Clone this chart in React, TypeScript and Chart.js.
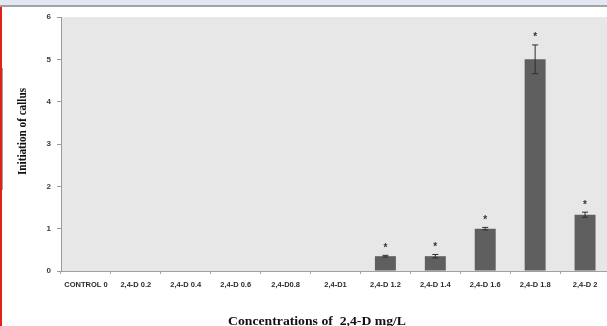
import React, { useEffect, useRef } from "react";
import { Chart, registerables } from "chart.js";

Chart.register(...registerables);

const categories = [
  "CONTROL 0",
  "2,4-D 0.2",
  "2,4-D 0.4",
  "2,4-D 0.6",
  "2,4-D0.8",
  "2,4-D1",
  "2,4-D 1.2",
  "2,4-D 1.4",
  "2,4-D 1.6",
  "2,4-D 1.8",
  "2,4-D 2",
];
const callusValues = [0, 0, 0, 0, 0, 0, 0.35, 0.35, 1.0, 5.0, 1.33];
const errorValues = [0, 0, 0, 0, 0, 0, 0.02, 0.04, 0.03, 0.34, 0.06];
const significance = ["", "", "", "", "", "", "*", "*", "*", "*", "*"];
const yTicks = [0, 1, 2, 3, 4, 5, 6];
const xTitle = "Concentrations of  2,4-D mg/L";
const yTitle = "Initiation of callus";

const bgPlugin = {
  id: "plotBg",
  beforeDraw(chart: any) {
    const { ctx, chartArea } = chart;
    ctx.save();
    ctx.fillStyle = "#e7e7e7";
    ctx.fillRect(chartArea.left, chartArea.top, chartArea.right - chartArea.left, chartArea.bottom - chartArea.top);
    ctx.restore();
  },
};

const titlePlugin = {
  id: "titles",
  afterDraw(chart: any) {
    const { ctx } = chart;
    ctx.save();
    ctx.fillStyle = "#111";
    ctx.textAlign = "center";
    ctx.textBaseline = "alphabetic";
    // x title
    ctx.font = "bold 12px 'Liberation Serif'";
    let w = ctx.measureText(xTitle).width;
    ctx.save();
    ctx.translate(317, 325);
    ctx.scale(178 / w, 1);
    ctx.fillText(xTitle, 0, 0);
    ctx.restore();
    // y title
    ctx.font = "bold 13px 'Liberation Serif'";
    w = ctx.measureText(yTitle).width;
    ctx.save();
    ctx.translate(25.5, 131.5);
    ctx.rotate(-Math.PI / 2);
    ctx.scale(87 / w, 1);
    ctx.fillText(yTitle, 0, 0);
    ctx.restore();
    ctx.restore();
  },
};

const errPlugin = {
  id: "errBars",
  afterDatasetsDraw(chart: any) {
    const { ctx } = chart;
    const meta = chart.getDatasetMeta(0);
    const y = chart.scales.y;
    ctx.save();
    meta.data.forEach((bar: any, i: number) => {
      const v = callusValues[i];
      const e = errorValues[i];
      if (!v) return;
      const x = bar.x;
      const yt = y.getPixelForValue(v + e);
      const yb = y.getPixelForValue(v - e);
      ctx.strokeStyle = "#2e2e2e";
      ctx.lineWidth = 1;
      ctx.beginPath();
      ctx.moveTo(x, yt);
      ctx.lineTo(x, yb);
      ctx.moveTo(x - 3, yt);
      ctx.lineTo(x + 3, yt);
      ctx.moveTo(x - 3, yb);
      ctx.lineTo(x + 3, yb);
      ctx.stroke();
      if (significance[i]) {
        ctx.fillStyle = "#333";
        ctx.font = "bold 10px 'Liberation Sans'";
        ctx.textAlign = "center";
        ctx.textBaseline = "alphabetic";
        ctx.fillText(significance[i], x, yt - 10 + 5.5);
      }
    });
    ctx.restore();
  },
};

export default function App() {
  const ref = useRef<HTMLCanvasElement>(null);
  useEffect(() => {
    if (!ref.current) return;
    const chart = new Chart(ref.current, {
      type: "bar",
      data: {
        labels: categories,
        datasets: [
          {
            data: callusValues,
            backgroundColor: "#5f5f5f",
            borderColor: "#4a4a4a",
            borderWidth: 0,
            barPercentage: 0.42,
            categoryPercentage: 1,
          },
        ],
      },
      options: {
        responsive: false,
        animation: false,
        layout: { padding: { top: 17, right: 2, left: 0, bottom: 0 } },
        plugins: { legend: { display: false }, tooltip: { enabled: false } },
        scales: {
          x: {
            grid: { display: true, drawOnChartArea: false, drawTicks: true, tickLength: 3, color: "#a8a8a8", offset: true },
            border: { color: "#a0a0a0" },
            ticks: {
              color: "#2a2a2a",
              font: { family: "'Liberation Sans'", size: 7.5, weight: "bold" },
              padding: 6,
              maxRotation: 0,
              autoSkip: false,
            },
            afterFit(scale: any) {
              scale.height = 55;
            },
          },
          y: {
            min: 0,
            max: 6,
            afterBuildTicks(scale: any) {
              scale.ticks = yTicks.map((v) => ({ value: v }));
            },
            grid: { display: true, drawOnChartArea: false, drawTicks: true, tickLength: 4, color: "#9a9a9a" },
            border: { color: "#9a9a9a" },
            ticks: {
              color: "#3a3a3a",
              font: { family: "'Liberation Sans'", size: 8, weight: "bold" },
              padding: 6,
            },
            afterFit(scale: any) {
              scale.width = 61;
            },
          },
        },
      },
      plugins: [bgPlugin, errPlugin, titlePlugin],
    });
    return () => chart.destroy();
  }, []);

  return (
    <div style={{ position: "absolute", left: 0, top: 0, width: 607, height: 326, overflow: "hidden", background: "#fff" }}>
      <canvas ref={ref} width={612} height={326} style={{ position: "absolute", left: 0, top: 0, width: 612, height: 326 }} />
      <div style={{ position: "absolute", left: 0, top: 0, width: 607, height: 5, background: "#e2e8f1" }} />
      <div style={{ position: "absolute", left: 0, top: 5, width: 607, height: 2, background: "#a3a3a3" }} />
      <div style={{ position: "absolute", left: 0, top: 7, width: 1.5, height: 319, background: "#e0201a" }} />
      <div style={{ position: "absolute", left: 2, top: 68, width: 1, height: 122, background: "#a0a0a0" }} />
    </div>
  );
}
